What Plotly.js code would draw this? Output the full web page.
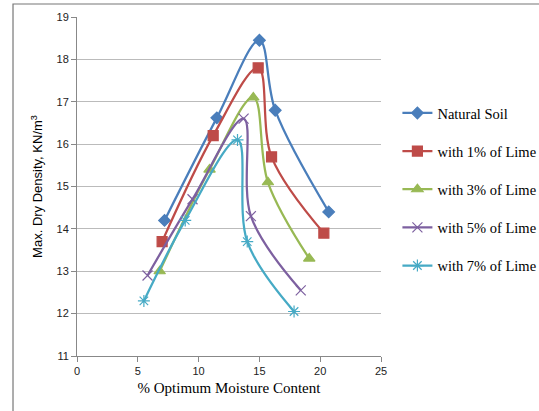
<!DOCTYPE html>
<html><head><meta charset="utf-8">
<script src="https://cdn.plot.ly/plotly-3.0.1.min.js"></script>
<style>html,body{margin:0;padding:0;background:#fff;overflow:hidden;}#c{width:539px;height:411px;}</style>
</head><body><div id="c"></div>
<script>
var names = ["Natural Soil","with 1% of Lime","with 3% of Lime","with 5% of Lime","with 7% of Lime"];
var omc0 = [7.2, 11.5, 15.0, 16.3, 20.7];
var mdd0 = [14.2, 16.62, 18.45, 16.8, 14.4];
var omc1 = [7.0, 11.2, 14.9, 16.0, 20.3];
var mdd1 = [13.7, 16.2, 17.8, 15.7, 13.9];
var omc3 = [6.8, 10.9, 14.5, 15.7, 19.1];
var mdd3 = [13.0, 15.4, 17.1, 15.1, 13.3];
var omc5 = [5.8, 9.5, 13.7, 14.3, 18.4];
var mdd5 = [12.9, 14.7, 16.6, 14.3, 12.55];
var omc7 = [5.5, 8.9, 13.2, 14.0, 17.85];
var mdd7 = [12.3, 14.2, 16.1, 13.7, 12.05];
var xTicks = [0,5,10,15,20,25];
var yTicks = [11,12,13,14,15,16,17,18,19];

var xs = [omc0, omc1, omc3, omc5, omc7];
var ys = [mdd0, mdd1, mdd3, mdd5, mdd7];
var colors = ["#4A7EBB","#BE4B48","#98B954","#7D60A0","#46AAC5"];
var symbols = ["diamond","square","triangle-up","x-thin-open","asterisk-open"];
var sizes = [9, 10, 10, 10, 10];

var traces = names.map(function(n,i){
  return {x: xs[i], y: ys[i], name: n, type: "scatter", mode: "lines+markers",
    legendgroup: "g"+i,
    line: {color: colors[i], width: 2.25, shape: "spline", smoothing: 1},
    marker: {symbol: symbols[i], size: sizes[i], color: colors[i], line: {color: colors[i], width: 1.2}}};
});

var layout = {
  width: 539, height: 411,
  margin: {l: 77, r: 158, t: 17, b: 55, autoexpand: false},
  paper_bgcolor: "#fff", plot_bgcolor: "#fff",
  showlegend: true,
  legend: {x: 1.054, y: 0.764, xanchor: "left", yanchor: "top",
    font: {family: "Liberation Serif, Times New Roman, serif", size: 14.5, color: "#000"},
    traceorder: "grouped", tracegroupgap: 16.3, bgcolor: "rgba(0,0,0,0)", itemwidth: 30},
  xaxis: {range: [0, 25], tickvals: xTicks, ticktext: xTicks.map(String),
    showgrid: false, zeroline: false, showline: true, linecolor: "#888", linewidth: 1,
    ticks: "outside", ticklen: 5, tickcolor: "#888",
    tickfont: {family: "Liberation Sans, Arial, sans-serif", size: 11, color: "#222"},
    title: {text: "% Optimum Moisture Content", standoff: 6,
      font: {family: "Liberation Serif, Times New Roman, serif", size: 15, color: "#000"}}},
  yaxis: {range: [11, 19], tickvals: yTicks, ticktext: yTicks.map(String),
    showgrid: true, gridcolor: "#BBBBBB", gridwidth: 1, zeroline: false,
    showline: true, linecolor: "#888", linewidth: 1,
    ticks: "outside", ticklen: 5, tickcolor: "#888",
    tickfont: {family: "Liberation Sans, Arial, sans-serif", size: 11, color: "#222"},
    title: {text: "Max. Dry Density, KN/m<sup>3</sup>", standoff: 10,
      font: {family: "Liberation Sans, Arial, sans-serif", size: 13, color: "#000"}}},
  shapes: [{type: "rect", xref: "paper", yref: "paper", x0: -0.2105, x1: 2, y0: -1, y1: 1.0383,
    line: {color: "#777", width: 1.2}, fillcolor: "rgba(0,0,0,0)", layer: "below"}]
};
Plotly.newPlot("c", traces, layout, {displayModeBar: false, staticPlot: true});
</script></body></html>
